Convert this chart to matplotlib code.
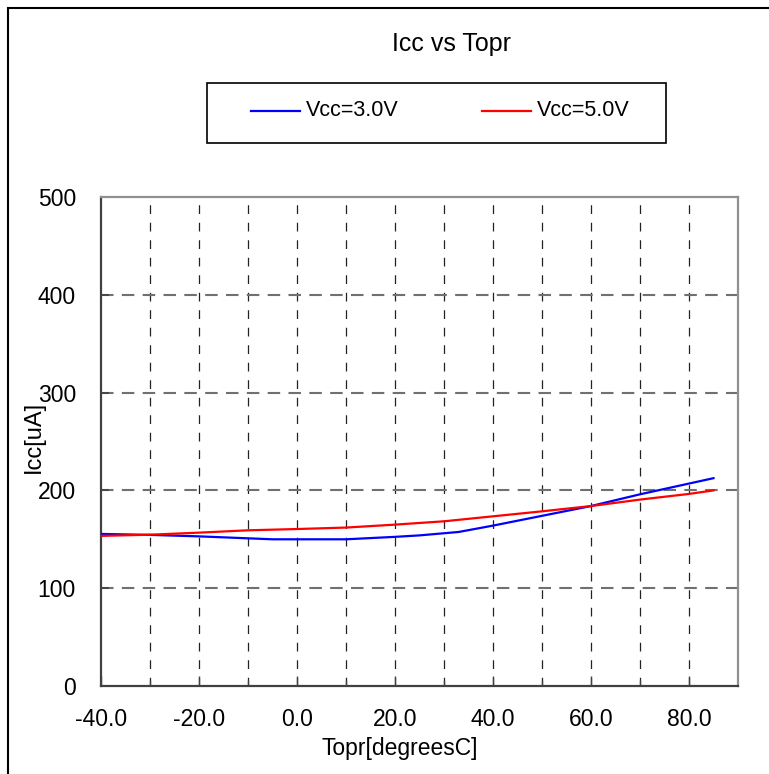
import numpy as np
import matplotlib
matplotlib.use("Agg")
import matplotlib.pyplot as plt
from matplotlib.lines import Line2D
from matplotlib.patches import Rectangle

plt.rcParams['font.family'] = ['Liberation Sans', 'DejaVu Sans']

# Data
topr_3v = [-40, -30, -20, -10, -5, 10, 20, 25, 33, 40, 50, 60, 70, 80, 85]
icc_3v = [155.5, 154.5, 153, 151, 150, 150, 152.5, 154, 157.5, 164, 174, 184, 196, 207, 212.5]
topr_5v = [-40, -30, -20, -10, 0, 10, 20, 30, 40, 50, 60, 70, 80, 85]
icc_5v = [153.5, 154.7, 156.8, 159.2, 160.5, 162, 165, 168.4, 173.5, 178.6, 184, 190.6, 196.4, 200]
series_names = ['Vcc=3.0V', 'Vcc=5.0V']
series_colors = ['#0000FF', '#FF0000']
x_ticks = [-40, -20, 0, 20, 40, 60, 80]
y_ticks = [0, 100, 200, 300, 400, 500]

W, H = 769, 774
fig = plt.figure(figsize=(W / 100, H / 100), dpi=100)

def fx(px):
    return px / W

def fy(py):
    return 1 - py / H

# outer frame (right/bottom edges fall outside the image)
fig.patches.append(Rectangle((fx(8), fy(800)), fx(800), fy(8) - fy(800),
                             transform=fig.transFigure, fill=False,
                             edgecolor='black', lw=1.5))

ax = fig.add_axes([fx(101), fy(686), fx(738) - fx(101), fy(197) - fy(686)])
ax.plot(topr_3v, icc_3v, color=series_colors[0], lw=1.6, zorder=3)
ax.plot(topr_5v, icc_5v, color=series_colors[1], lw=1.6, zorder=3)

ax.set_xlim(-40, 90)
ax.set_ylim(0, 500)
ax.set_xticks(x_ticks)
ax.set_xticklabels([f'{v:.1f}' for v in x_ticks])
ax.set_xticks(np.arange(-30, 90, 20), minor=True)
ax.set_yticks(y_ticks)

# grid
for xv in range(-30, 90, 10):
    ax.axvline(xv, color='#222222', lw=0.9, ls=(0, (7, 7)), zorder=1)
for yv in y_ticks[1:-1]:
    ax.axhline(yv, color='#707070', lw=1.5, ls=(0, (6, 4)), zorder=1)

ax.tick_params(axis='x', which='major', direction='in', length=7, width=1,
               pad=15.5, labelsize=16.5, color='#404040')
ax.tick_params(axis='x', which='minor', direction='in', length=4, width=1,
               color='#404040')
ax.tick_params(axis='y', direction='in', length=6, width=1.2, pad=18,
               labelsize=16.5, color='#404040')

for s in ['left', 'bottom']:
    ax.spines[s].set_color('#404040')
    ax.spines[s].set_linewidth(1.6)
for s in ['top', 'right']:
    ax.spines[s].set_color('#909090')
    ax.spines[s].set_linewidth(1.6)

# titles and axis labels
fig.text(fx(452), fy(44), 'Icc vs Topr', ha='center', va='center', fontsize=18)
fig.text(fx(400), fy(755), 'Topr[degreesC]', ha='center', va='baseline', fontsize=16.5)
fig.text(fx(34), fy(437), 'Icc[uA]', ha='center', va='center', rotation=90, fontsize=17)

# legend box
fig.patches.append(Rectangle((fx(207), fy(143)), fx(666) - fx(207), fy(83) - fy(143),
                             transform=fig.transFigure, fill=False,
                             edgecolor='black', lw=1.2))
leg_pos = [(251, 300, 306), (482, 531, 537)]
for (x0, x1, tx), name, col in zip(leg_pos, series_names, series_colors):
    fig.lines.append(Line2D([fx(x0), fx(x1)], [fy(111), fy(111)],
                            transform=fig.transFigure, color=col, lw=1.6))
    fig.text(fx(tx), fy(111), name, ha='left', va='center', fontsize=15.5)

fig.savefig('out.png', dpi=100)
